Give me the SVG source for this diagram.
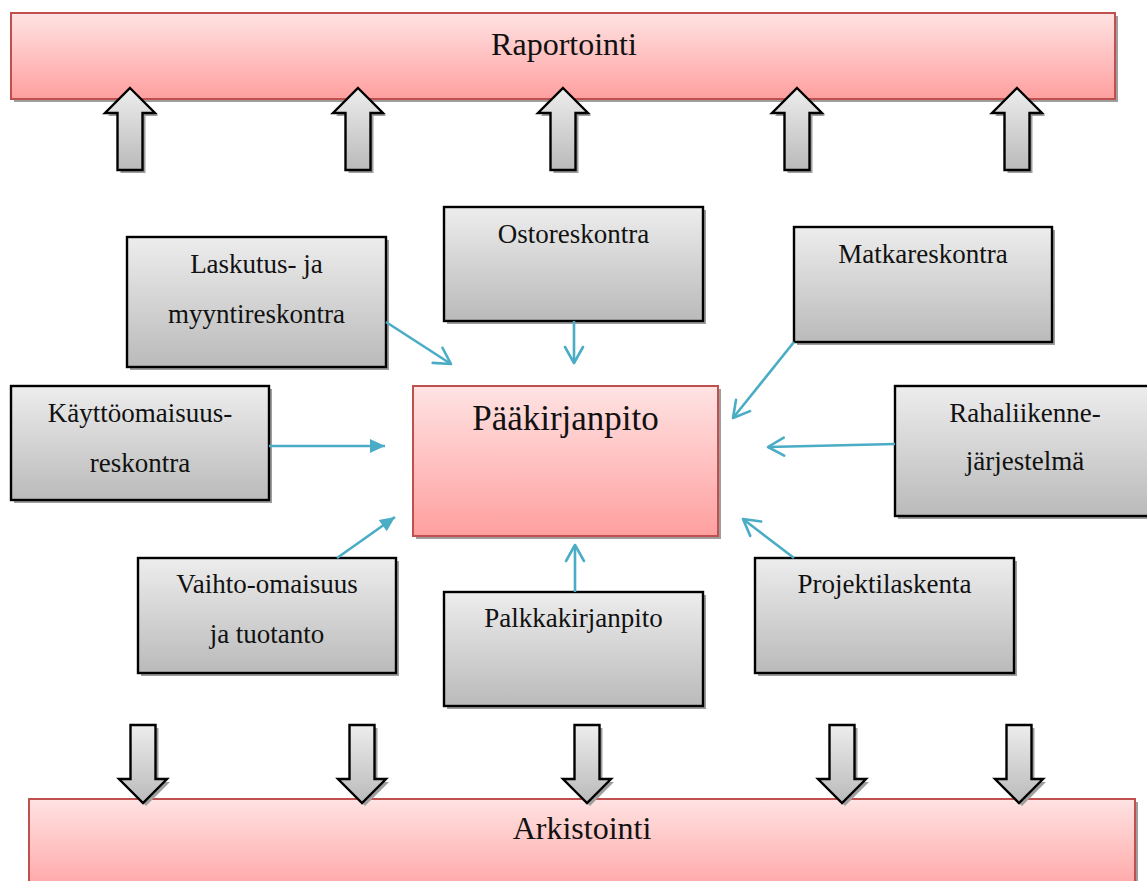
<svg xmlns="http://www.w3.org/2000/svg" width="1147" height="881" viewBox="0 0 1147 881">
  <defs>
    <linearGradient id="gGray" x1="0" y1="0" x2="0" y2="1">
      <stop offset="0" stop-color="#ededed"/>
      <stop offset="1" stop-color="#bababa"/>
    </linearGradient>
    <linearGradient id="gPink" x1="0" y1="0" x2="0" y2="1">
      <stop offset="0" stop-color="#ffe3e3"/>
      <stop offset="1" stop-color="#ff9f9f"/>
    </linearGradient>
    <marker id="mOpen" markerUnits="userSpaceOnUse" viewBox="-22 -12 26 24" markerWidth="26" markerHeight="24" refX="0" refY="0" orient="auto" overflow="visible">
      <path d="M-16,-9 L0,0 L-16,9" fill="none" stroke="#4bacc6" stroke-width="2.6" stroke-linecap="round" stroke-linejoin="round"/>
    </marker>
    <marker id="mFill" markerUnits="userSpaceOnUse" viewBox="-18 -10 20 20" markerWidth="20" markerHeight="20" refX="0" refY="0" orient="auto" overflow="visible">
      <path d="M-15,-7 L0,0 L-15,7 Z" fill="#4bacc6"/>
    </marker>
  </defs>
  <style>
    .shadow { fill: #9e9e9e; }
    .box { fill: url(#gGray); stroke: #000; stroke-width: 2.4; }
    .bar { fill: url(#gPink); stroke: #c0504d; stroke-width: 2; }
    .blk { fill: url(#gGray); stroke: #000; stroke-width: 2.4; stroke-linejoin: miter; }
    .lbl { font-family: "Liberation Serif", "Times New Roman", serif; font-size: 27px; fill: #111; text-anchor: middle; }
    .big { font-family: "Liberation Serif", "Times New Roman", serif; font-size: 32px; fill: #111; text-anchor: middle; }
    .conn { stroke: #4bacc6; stroke-width: 2.6; fill: none; }
  </style>

  <rect width="1147" height="881" fill="#fff"/>

  <!-- top reporting bar -->
  <g id="raportointi">
    <rect class="shadow" x="14" y="16" width="1104" height="86"/>
    <rect class="bar" x="11" y="13" width="1104" height="86"/>
    <text class="big" x="564" y="55">Raportointi</text>
  </g>

  <!-- bottom archiving bar -->
  <g id="arkistointi">
    <rect class="shadow" x="32" y="802" width="1106" height="100"/>
    <rect class="bar" x="29" y="799" width="1106" height="100"/>
    <text class="big" x="582" y="839">Arkistointi</text>
  </g>

  <!-- block arrows up to reporting -->
  <g id="up-arrows">
    <g transform="translate(3,3)" class="shadow">
      <path d="M130,88 L155,113 L142.5,113 L142.5,170 L117.5,170 L117.5,113 L105,113 Z"/>
      <path d="M358,88 L383,113 L370.5,113 L370.5,170 L345.5,170 L345.5,113 L333,113 Z"/>
      <path d="M563,88 L588,113 L575.5,113 L575.5,170 L550.5,170 L550.5,113 L538,113 Z"/>
      <path d="M797,88 L822,113 L809.5,113 L809.5,170 L784.5,170 L784.5,113 L772,113 Z"/>
      <path d="M1017,88 L1042,113 L1029.5,113 L1029.5,170 L1004.5,170 L1004.5,113 L992,113 Z"/>
    </g>
    <path class="blk" d="M130,88 L155,113 L142.5,113 L142.5,170 L117.5,170 L117.5,113 L105,113 Z"/>
    <path class="blk" d="M358,88 L383,113 L370.5,113 L370.5,170 L345.5,170 L345.5,113 L333,113 Z"/>
    <path class="blk" d="M563,88 L588,113 L575.5,113 L575.5,170 L550.5,170 L550.5,113 L538,113 Z"/>
    <path class="blk" d="M797,88 L822,113 L809.5,113 L809.5,170 L784.5,170 L784.5,113 L772,113 Z"/>
    <path class="blk" d="M1017,88 L1042,113 L1029.5,113 L1029.5,170 L1004.5,170 L1004.5,113 L992,113 Z"/>
  </g>

  <!-- block arrows down to archiving -->
  <g id="down-arrows">
    <g transform="translate(3,3)" class="shadow">
      <path d="M130.5,725 L155.5,725 L155.5,779 L167,779 L143,803 L119,779 L130.5,779 Z"/>
      <path d="M349.5,725 L374.5,725 L374.5,779 L386,779 L362,803 L338,779 L349.5,779 Z"/>
      <path d="M574.5,725 L599.5,725 L599.5,779 L611,779 L587,803 L563,779 L574.5,779 Z"/>
      <path d="M829.5,725 L854.5,725 L854.5,779 L866,779 L842,803 L818,779 L829.5,779 Z"/>
      <path d="M1006.5,725 L1031.5,725 L1031.5,779 L1043,779 L1019,803 L995,779 L1006.5,779 Z"/>
    </g>
    <path class="blk" d="M130.5,725 L155.5,725 L155.5,779 L167,779 L143,803 L119,779 L130.5,779 Z"/>
    <path class="blk" d="M349.5,725 L374.5,725 L374.5,779 L386,779 L362,803 L338,779 L349.5,779 Z"/>
    <path class="blk" d="M574.5,725 L599.5,725 L599.5,779 L611,779 L587,803 L563,779 L574.5,779 Z"/>
    <path class="blk" d="M829.5,725 L854.5,725 L854.5,779 L866,779 L842,803 L818,779 L829.5,779 Z"/>
    <path class="blk" d="M1006.5,725 L1031.5,725 L1031.5,779 L1043,779 L1019,803 L995,779 L1006.5,779 Z"/>
  </g>

  <!-- general ledger -->
  <g id="paakirjanpito">
    <rect class="shadow" x="416" y="389" width="305" height="150"/>
    <rect class="bar" x="413" y="386" width="305" height="150"/>
    <text x="565.5" y="430" font-family="'Liberation Serif', 'Times New Roman', serif" font-size="35" fill="#111" text-anchor="middle">Pääkirjanpito</text>
  </g>

  <g id="laskutus">
    <rect class="shadow" x="130" y="240" width="259" height="130"/>
    <rect class="box" x="127" y="237" width="259" height="130"/>
    <text class="lbl" x="256.5" y="273">Laskutus- ja</text>
    <text class="lbl" x="256.5" y="323">myyntireskontra</text>
  </g>

  <g id="ostoreskontra">
    <rect class="shadow" x="447" y="210" width="259" height="114"/>
    <rect class="box" x="444" y="207" width="259" height="114"/>
    <text class="lbl" x="573.5" y="243">Ostoreskontra</text>
  </g>

  <g id="matkareskontra">
    <rect class="shadow" x="797" y="230" width="258" height="115"/>
    <rect class="box" x="794" y="227" width="258" height="115"/>
    <text class="lbl" x="923" y="263">Matkareskontra</text>
  </g>

  <g id="kayttoomaisuus">
    <rect class="shadow" x="14" y="389" width="258" height="114"/>
    <rect class="box" x="11" y="386" width="258" height="114"/>
    <text class="lbl" x="140" y="422">Käyttöomaisuus-</text>
    <text class="lbl" x="140" y="472">reskontra</text>
  </g>

  <g id="rahaliikenne">
    <rect class="shadow" x="898" y="389" width="260" height="130"/>
    <rect class="box" x="895" y="386" width="260" height="130"/>
    <text class="lbl" x="1025" y="422">Rahaliikenne-</text>
    <text class="lbl" x="1025" y="470">järjestelmä</text>
  </g>

  <g id="vaihto-omaisuus">
    <rect class="shadow" x="141" y="561" width="258" height="115"/>
    <rect class="box" x="138" y="558" width="258" height="115"/>
    <text class="lbl" x="267" y="593">Vaihto-omaisuus</text>
    <text class="lbl" x="267" y="643">ja tuotanto</text>
  </g>

  <g id="palkkakirjanpito">
    <rect class="shadow" x="447" y="595" width="259" height="114"/>
    <rect class="box" x="444" y="592" width="259" height="114"/>
    <text class="lbl" x="573.5" y="627">Palkkakirjanpito</text>
  </g>

  <g id="projektilaskenta">
    <rect class="shadow" x="758" y="561" width="259" height="115"/>
    <rect class="box" x="755" y="558" width="259" height="115"/>
    <text class="lbl" x="884.5" y="593">Projektilaskenta</text>
  </g>

  <!-- feeds into the general ledger -->
  <g id="connectors">
    <line class="conn" x1="386" y1="322" x2="451" y2="364" marker-end="url(#mOpen)"/>
    <line class="conn" x1="574" y1="321" x2="574" y2="363" marker-end="url(#mOpen)"/>
    <line class="conn" x1="794" y1="342" x2="733" y2="418" marker-end="url(#mOpen)"/>
    <line class="conn" x1="269" y1="446" x2="385" y2="446" marker-end="url(#mFill)"/>
    <line class="conn" x1="895" y1="444" x2="768" y2="447" marker-end="url(#mOpen)"/>
    <line class="conn" x1="337" y1="558" x2="395" y2="517" marker-end="url(#mFill)"/>
    <line class="conn" x1="575" y1="592" x2="575" y2="545" marker-end="url(#mOpen)"/>
    <line class="conn" x1="794" y1="558" x2="743" y2="519" marker-end="url(#mOpen)"/>
  </g>
</svg>
